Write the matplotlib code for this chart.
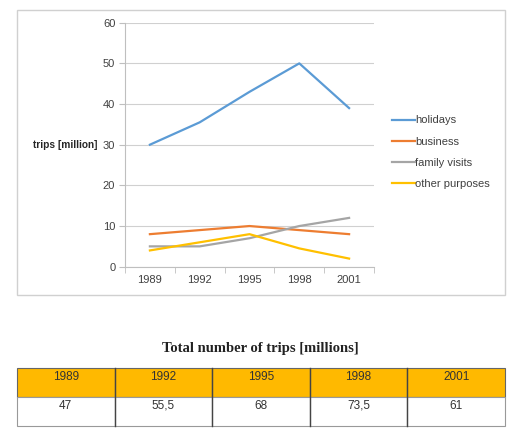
import matplotlib
matplotlib.use("Agg")
import matplotlib.pyplot as plt
from matplotlib.patches import Rectangle

years = ["1989", "1992", "1995", "1998", "2001"]
holidays = [30, 35.5, 43, 50, 39]
business = [8, 9, 10, 9, 8]
family_visits = [5, 5, 7, 10, 12]
other_purposes = [4, 6, 8, 4.5, 2]
series_names = ["holidays", "business", "family visits", "other purposes"]
series_colors = ["#5B9BD5", "#ED7D31", "#A5A5A5", "#FFC000"]
totals = ["47", "55,5", "68", "73,5", "61"]
y_ticks = [0, 10, 20, 30, 40, 50, 60]

plt.rcParams['font.family'] = ['Liberation Sans', 'DejaVu Sans']
fig = plt.figure(figsize=(5.12, 4.36), dpi=100)

# outer chart frame
fig.add_artist(Rectangle((17/512, 1-295/436), 488/512, 285/436, transform=fig.transFigure,
                         fill=False, edgecolor="#D0D0D0", linewidth=1.0))

ax = fig.add_axes([125/512, 1-266.7/436, 249/512, 244/436])
x = list(range(len(years)))
for vals, name, col in zip([holidays, business, family_visits, other_purposes], series_names, series_colors):
    ax.plot(x, vals, color=col, linewidth=1.6, label=name)
ax.set_xlim(-0.5, len(years) - 0.5)
ax.set_ylim(0, 60)
ax.set_yticks(y_ticks)
ax.set_xticks(x)
ax.set_xticklabels(years)
ax.set_xticks([i - 0.5 for i in range(len(years) + 1)], minor=True)
ax.tick_params(axis='x', which='major', length=0, pad=6, labelsize=8, labelcolor="#404040")
ax.tick_params(axis='x', which='minor', length=4, color="#BFBFBF", direction='out')
ax.tick_params(axis='y', length=4, color="#BFBFBF", labelsize=8, labelcolor="#404040", pad=3)
ax.grid(axis='y', color="#D0D0D0", linewidth=0.8)
ax.set_axisbelow(True)
for s in ['top', 'right']:
    ax.spines[s].set_visible(False)
ax.spines['left'].set_color("#BFBFBF")
ax.spines['bottom'].set_color("#BFBFBF")
ax.set_ylabel("trips [million]", rotation=0, fontsize=7.3, fontweight='bold', color="#262626",
              va='center', ha='right')
ax.yaxis.set_label_coords(-0.112, 0.5)

leg = ax.legend(loc='upper left', bbox_to_anchor=(1.072, 0.62), frameon=False, fontsize=8,
                handlelength=2.1, handletextpad=0.0, labelspacing=1.0, borderaxespad=0,
                borderpad=0)
for t in leg.get_texts():
    t.set_color("#404040")

fig.text(260/512, 1-348/436, "Total number of trips [millions]", ha='center', va='center',
         fontsize=10.5, fontweight='bold', family=['Liberation Serif', 'DejaVu Serif'], color="#222222")

# table
tax = fig.add_axes([17/512, 1-426/436, 488/512, 58/436])
tax.set_xlim(0, len(years))
tax.set_ylim(0, 2)
tax.axis('off')
for i, (yr, tot) in enumerate(zip(years, totals)):
    tax.add_patch(Rectangle((i, 1), 1, 1, facecolor="#FFB900", edgecolor="#666666",
                            linewidth=0.8, clip_on=False))
    tax.add_patch(Rectangle((i, 0), 1, 1, facecolor="white", edgecolor="#999999",
                            linewidth=0.8, clip_on=False))
    tax.text(i + 0.5, 1.7, yr, ha='center', va='center', fontsize=8.5, color="#333333")
    tax.text(i + 0.5, 0.7, tot, ha='center', va='center', fontsize=8.5, color="#333333")
for i in range(1, len(years)):
    tax.plot([i, i], [0, 2], color="#444444", linewidth=1.0, clip_on=False)

fig.savefig("out.png", dpi=100)
